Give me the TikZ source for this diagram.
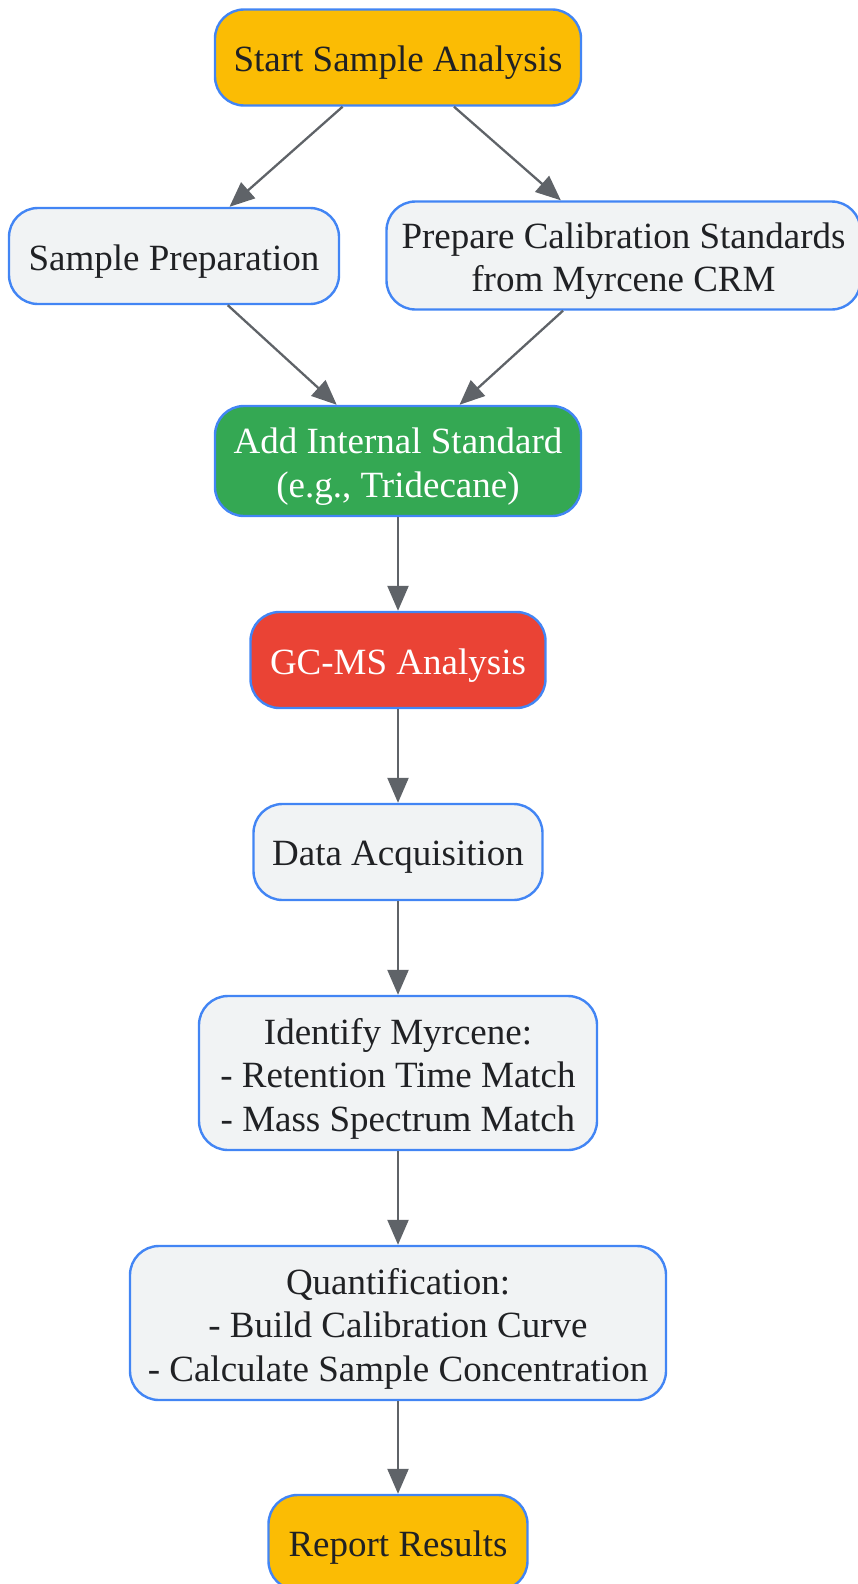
\documentclass[tikz,border=0pt]{standalone}
\usepackage{fontspec}
\setmainfont{Liberation Serif}
\usetikzlibrary{arrows.meta}
\definecolor{bord}{HTML}{4285F4}
\definecolor{grayfill}{HTML}{F1F3F4}
\definecolor{orangefill}{HTML}{FBBC04}
\definecolor{greenfill}{HTML}{34A853}
\definecolor{redfill}{HTML}{EA4335}
\definecolor{txt}{HTML}{202124}
\definecolor{arr}{HTML}{5F6368}
\tikzset{
  box/.style={draw=bord, line width=2.4pt, rounded corners=29pt,
    inner sep=0pt, fill=grayfill},
  boxtext/.style={align=center, inner sep=0pt, text=#1, yshift=-5.5pt,
    font=\fontsize{37}{43.5}\selectfont},
  txtlabel/.style={label={[boxtext=txt]center:{#1}}},
  whitelabel/.style={label={[boxtext=white]center:{#1}}},
  orangebox/.style={box, fill=orangefill},
  greenbox/.style={box, fill=greenfill},
  redbox/.style={box, fill=redfill},
  conn/.style={draw=arr, line width=2.3pt, -{Triangle[length=25pt,width=21pt]}}
}
\begin{document}
\begin{tikzpicture}[x=1pt,y=-1pt]
\useasboundingbox (0,0) rectangle (857,1584);
\node[orangebox, minimum width=366pt, minimum height=96pt, txtlabel={Start Sample Analysis}] (start) at (398,57.5) {};
\node[box, minimum width=330pt, minimum height=96pt, txtlabel={Sample Preparation}] (prep) at (174,256) {};
\node[box, minimum width=474pt, minimum height=108pt, txtlabel={Prepare Calibration Standards\\from Myrcene CRM}] (calib) at (623.5,255.5) {};
\node[greenbox, minimum width=366pt, minimum height=110pt, whitelabel={Add Internal Standard\\(e.g., Tridecane)}] (istd) at (398,461) {};
\node[redbox, minimum width=295pt, minimum height=96pt, whitelabel={GC-MS Analysis}] (gcms) at (398,660) {};
\node[box, minimum width=289pt, minimum height=96pt, txtlabel={Data Acquisition}] (data) at (398,852) {};
\node[box, minimum width=398pt, minimum height=154pt, txtlabel={Identify Myrcene:\\- Retention Time Match\\- Mass Spectrum Match}] (ident) at (398,1073) {};
\node[box, minimum width=536pt, minimum height=154pt, txtlabel={Quantification:\\- Build Calibration Curve\\- Calculate Sample Concentration}] (quant) at (398,1323) {};
\node[orangebox, minimum width=259pt, minimum height=95pt, txtlabel={Report Results}] (report) at (398,1542.5) {};
\draw[conn] (start) -- (prep);
\draw[conn] (start) -- (calib);
\draw[conn] (prep) -- (istd);
\draw[conn] (calib) -- (istd);
\draw[conn] (istd) -- (gcms);
\draw[conn] (gcms) -- (data);
\draw[conn] (data) -- (ident);
\draw[conn] (ident) -- (quant);
\draw[conn] (quant) -- (report);
\end{tikzpicture}
\end{document}
